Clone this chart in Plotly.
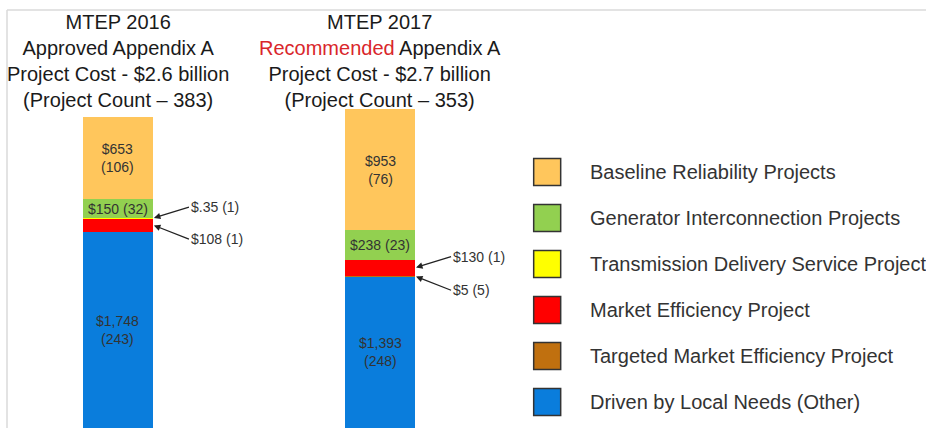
import plotly.graph_objects as go

# ---------------- data ----------------
CATEGORIES = ["MTEP 2016", "MTEP 2017"]
TITLES = [
    "MTEP 2016<br>Approved Appendix A<br>Project Cost - $2.6 billion<br>(Project Count – 383)",
    "MTEP 2017<br><span style='color:#D9262B'>Recommended</span> Appendix A<br>Project Cost - $2.7 billion<br>(Project Count – 353)",
]
SERIES = [
    "Baseline Reliability Projects",
    "Generator Interconnection Projects",
    "Transmission Delivery Service Project",
    "Market Efficiency Project",
    "Targeted Market Efficiency Project",
    "Driven by Local Needs (Other)",
]
COST_BRP = [653, 953]
COUNT_BRP = [106, 76]
COST_GIP = [150, 238]
COUNT_GIP = [32, 23]
COST_TDSP = [0.35, 0]
COUNT_TDSP = [1, 0]
COST_MEP = [108, 130]
COUNT_MEP = [1, 1]
COST_TMEP = [0, 5]
COUNT_TMEP = [0, 5]
COST_OTHER = [1748, 1393]
COUNT_OTHER = [243, 248]

COLORS = {
    SERIES[0]: "#FFC65C",
    SERIES[1]: "#92D050",
    SERIES[2]: "#FFFF00",
    SERIES[3]: "#FF0000",
    SERIES[4]: "#C0700F",
    SERIES[5]: "#0A7DDC",
}

# ---------------- style ----------------
FONT = "Liberation Sans, Arial, sans-serif"
BAR_W = 0.267
Y_MIN, Y_MAX = 191, 3588
TXT = "#333333"


def money(v):
    if v < 1:
        return "$" + f"{v:.2f}".lstrip("0")
    return f"${v:,.0f}"


# stack bottom -> top
stack = [
    (SERIES[5], COST_OTHER, COUNT_OTHER),
    (SERIES[4], COST_TMEP, COUNT_TMEP),
    (SERIES[3], COST_MEP, COUNT_MEP),
    (SERIES[2], COST_TDSP, COUNT_TDSP),
    (SERIES[1], COST_GIP, COUNT_GIP),
    (SERIES[0], COST_BRP, COUNT_BRP),
]

xs = list(range(len(CATEGORIES)))
fig = go.Figure()
for name, cost, cnt in stack:
    fig.add_trace(go.Bar(
        x=xs, y=cost, name=name, width=BAR_W,
        marker=dict(color=COLORS[name], line=dict(width=0)),
        showlegend=False, hoverinfo="skip",
        xaxis="x", yaxis="y",
    ))

annotations = []
for i in xs:
    base = 0
    bounds = {}
    for name, cost, cnt in stack:
        bounds[name] = (base, base + cost[i], cost[i], cnt[i])
        base += cost[i]
    # big segments: inside labels
    b0, b1, c, n = bounds[SERIES[0]]
    annotations.append(dict(x=i, y=(b0 + b1) / 2, xref="x", yref="y",
                            text=f"{money(c)}<br>({n})", showarrow=False,
                            font=dict(size=14, color=TXT, family=FONT)))
    b0, b1, c, n = bounds[SERIES[1]]
    annotations.append(dict(x=i, y=(b0 + b1) / 2, xref="x", yref="y",
                            text=f"{money(c)} ({n})", showarrow=False,
                            font=dict(size=14, color=TXT, family=FONT)))
    b0, b1, c, n = bounds[SERIES[5]]
    annotations.append(dict(x=i, y=(max(b0, Y_MIN) + b1) / 2, xref="x", yref="y",
                            text=f"{money(c)}<br>({n})", showarrow=False,
                            font=dict(size=14, color=TXT, family=FONT)))
    # small segments: arrow call-outs (upper, lower)
    small = [(nm, bounds[nm]) for nm in (SERIES[2], SERIES[3], SERIES[4]) if bounds[nm][3] > 0]
    small.sort(key=lambda t: -t[1][1])
    offsets = [-11, 14]
    for k, (nm, (b0, b1, c, n)) in enumerate(small[:2]):
        annotations.append(dict(
            x=i + BAR_W / 2, y=(b0 + b1) / 2, xref="x", yref="y",
            text=f"{money(c)} ({n})", showarrow=True,
            ax=36, ay=offsets[k], xanchor="left",
            arrowhead=2, arrowsize=1, arrowwidth=1.3, arrowcolor="#222",
            standoff=1,
            font=dict(size=14, color=TXT, family=FONT),
        ))
    # titles
    annotations.append(dict(x=i, y=1 - 9 / 428, xref="x", yref="paper",
                            yanchor="top", text=TITLES[i], showarrow=False,
                            font=dict(size=20, color="#1a1a1a", family=FONT)))

# custom legend (large squares)
fig.add_trace(go.Scatter(
    x=[0] * len(SERIES), y=SERIES, mode="markers",
    marker=dict(symbol="square", size=27, color=[COLORS[s] for s in SERIES],
                line=dict(color="#333333", width=1.5)),
    showlegend=False, hoverinfo="skip", xaxis="x2", yaxis="y2",
))
for s in SERIES:
    annotations.append(dict(x=1.07, y=s, xref="x2", yref="y2", xanchor="left",
                            text=s, showarrow=False,
                            font=dict(size=20, color=TXT, family=FONT)))

fig.update_layout(
    width=926, height=428,
    margin=dict(l=0, r=0, t=0, b=0),
    paper_bgcolor="white", plot_bgcolor="white",
    barmode="stack", bargap=0,
    font=dict(family=FONT, color=TXT),
    xaxis=dict(domain=[0, 0.55], range=[-0.450, 1.493], visible=False, fixedrange=True),
    yaxis=dict(domain=[0, 1], range=[Y_MIN, Y_MAX], visible=False, fixedrange=True),
    xaxis2=dict(domain=[0.55, 1], range=[-1, 10], visible=False, anchor="y2"),
    yaxis2=dict(domain=[0, 1], range=[5.565, -3.74], visible=False, anchor="x2",
                type="category", categoryorder="array", categoryarray=SERIES),
    annotations=annotations,
    shapes=[
        dict(type="line", xref="paper", yref="paper", x0=7 / 926, x1=1,
             y0=1 - 10 / 428, y1=1 - 10 / 428, line=dict(color="#DADADA", width=1.5)),
        dict(type="line", xref="paper", yref="paper", x0=7 / 926, x1=7 / 926,
             y0=0, y1=1 - 10 / 428, line=dict(color="#DADADA", width=1.5)),
    ],
    showlegend=False,
)

fig.write_html(
    "out.html",
    config={"displayModeBar": False},
    post_script="document.body.style.margin='0px';document.body.style.overflow='hidden';",
)
